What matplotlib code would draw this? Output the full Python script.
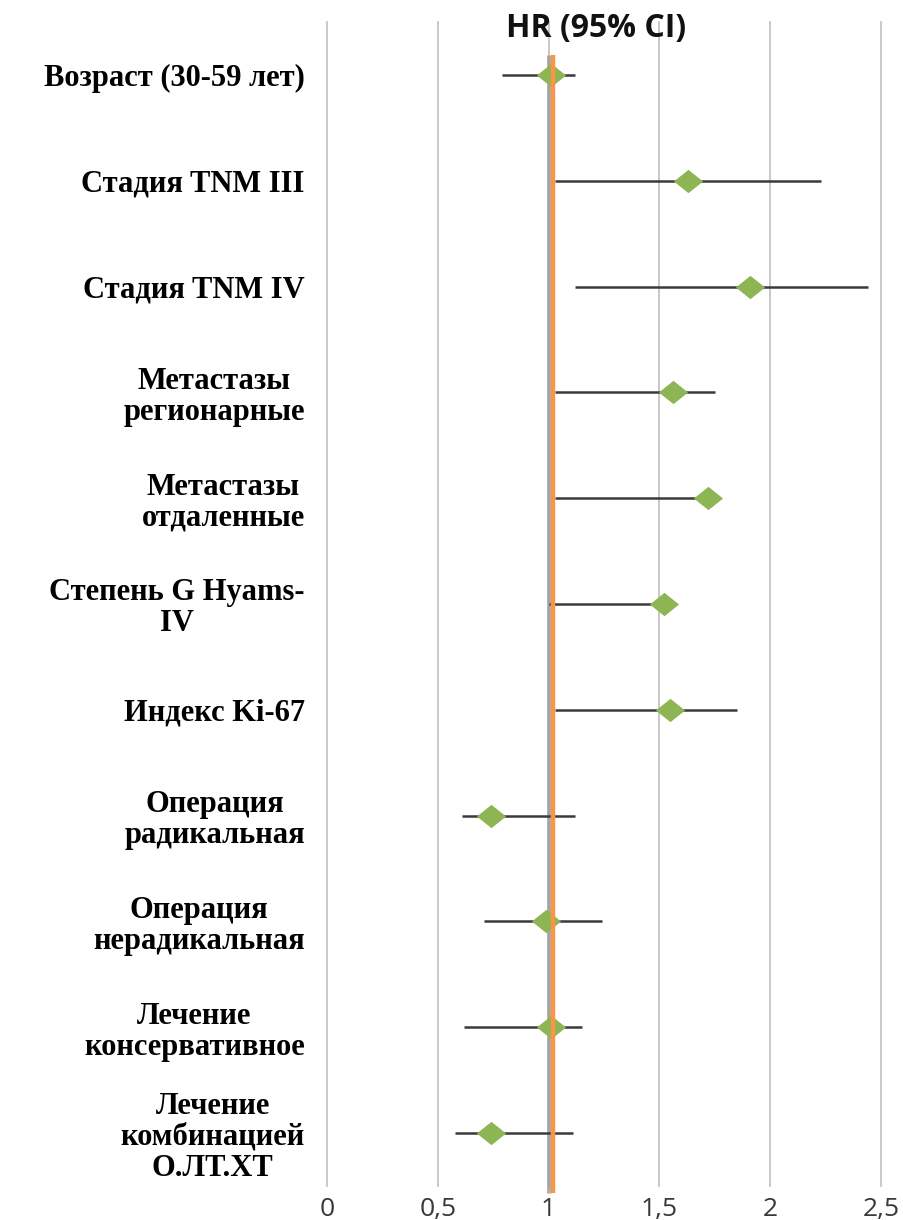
import matplotlib
matplotlib.use("Agg")
import matplotlib.pyplot as plt
from matplotlib.path import Path

# Hazard ratios with 95% confidence intervals, one row per factor
factors = [
    "Возраст (30-59 лет)",
    "Стадия TNM III",
    "Стадия TNM IV",
    "Метастазы\nрегионарные",
    "Метастазы\nотдаленные",
    "Степень G Hyams-\nIV",
    "Индекс Ki-67",
    "Операция\nрадикальная",
    "Операция\nнерадикальная",
    "Лечение\nконсервативное",
    "Лечение\nкомбинацией\nО.ЛТ.ХТ",
]
hr = [1.01, 1.63, 1.91, 1.56, 1.72, 1.52, 1.55, 0.74, 0.99, 1.01, 0.74]
ci_low = [0.79, 1.03, 1.12, 1.03, 1.03, 1.00, 1.03, 0.61, 0.71, 0.62, 0.58]
ci_high = [1.12, 2.23, 2.44, 1.75, 1.70, 1.50, 1.85, 1.12, 1.24, 1.15, 1.11]
x_ticks = [0, 0.5, 1, 1.5, 2, 2.5]
x_tick_labels = ["0", "0,5", "1", "1,5", "2", "2,5"]
ref_line_x = 1.02

GREEN = "#8DB554"
ORANGE = "#F79646"

fig = plt.figure(figsize=(9.04, 12.2), dpi=100)
ax = fig.add_axes([327 / 904, 1 - 1186 / 1220, 576 / 904, 1164 / 1220])

rows = list(range(len(factors)))
ax.set_xlim(0, 2.6)
ax.set_ylim(len(factors) - 0.5, -0.5)

# vertical gridlines
for xv in x_ticks:
    ax.axvline(xv, color="#c4c4c4", lw=1.3, zorder=0, clip_on=False)

# reference line at HR ~ 1 with a soft grey shadow
ax.plot([1.0, 1.0], [-0.19, 10.57], color="#9a9a9a", lw=3.5, alpha=0.8,
        solid_capstyle="butt", clip_on=False, zorder=1)
ax.plot([ref_line_x, ref_line_x], [-0.19, 10.57], color=ORANGE, lw=3.2,
        solid_capstyle="butt", clip_on=False, zorder=4)

# CI whiskers
ax.hlines(rows, ci_low, ci_high, color="#3a3a3a", lw=1.8, zorder=2)

# slightly flattened diamond markers
diamond = Path([(-1.25, 0), (0, 1), (1.25, 0), (0, -1), (-1.25, 0)],
               [Path.MOVETO, Path.LINETO, Path.LINETO, Path.LINETO, Path.CLOSEPOLY])
ax.plot(hr, rows, linestyle="none", marker=diamond, markersize=21,
        color=GREEN, markeredgewidth=0, zorder=3)

ax.set_yticks(rows)
ax.set_yticklabels(factors, fontfamily="Liberation Serif", fontweight="bold",
                   fontsize=22, multialignment="center", linespacing=1.08)
ax.set_xticks(x_ticks)
ax.set_xticklabels(x_tick_labels, fontfamily="Open Sans", fontsize=19,
                   color="#383838")
ax.tick_params(axis="y", length=0, pad=16)
ax.tick_params(axis="x", length=0, pad=8)

for side in ax.spines.values():
    side.set_visible(False)

fig.text(596 / 904, 1 - 28 / 1220, "HR (95% CI)", ha="center", va="center",
         fontfamily="Open Sans", fontweight="bold", fontsize=23, color="#111111")

fig.savefig("out.png", dpi=100, facecolor="white")
